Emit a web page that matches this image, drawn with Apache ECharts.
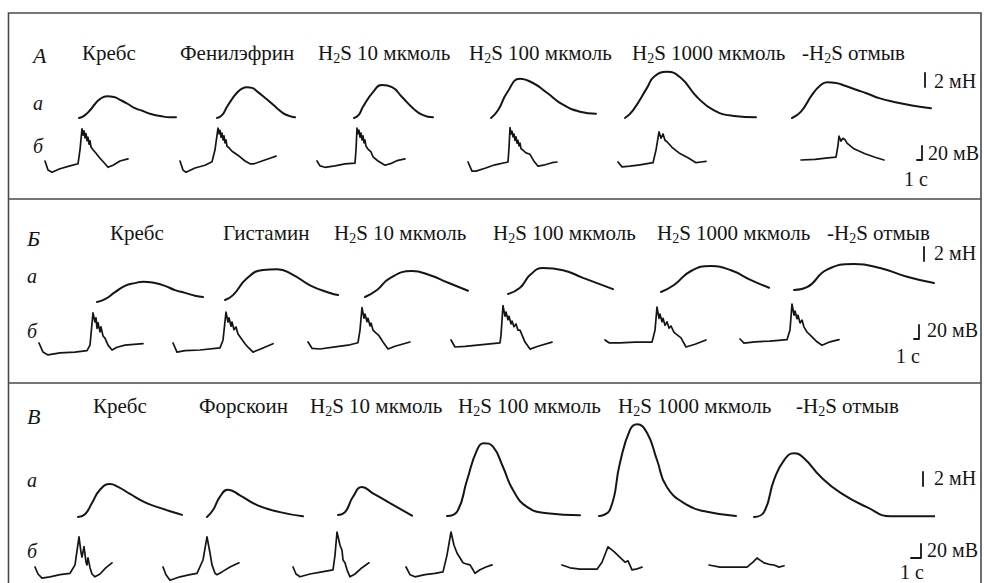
<!DOCTYPE html>
<html><head><meta charset="utf-8">
<script src="https://cdn.jsdelivr.net/npm/echarts@6/dist/echarts.min.js"></script>
<style>html,body{margin:0;padding:0;background:#fff}#c{width:984px;height:583px}</style>
</head><body><div id="c"></div>
<script>
// ================= DATA =================
const panelLetters = ['А', 'Б', 'В'];
const rowLabels = ['а', 'б'];
const conditionsA = ['Кребс', 'Фенилэфрин', 'H2S 10 мкмоль', 'H2S 100 мкмоль', 'H2S 1000 мкмоль', '-H2S отмыв'];
const conditionsB = ['Кребс', 'Гистамин', 'H2S 10 мкмоль', 'H2S 100 мкмоль', 'H2S 1000 мкмоль', '-H2S отмыв'];
const conditionsC = ['Кребс', 'Форскоин', 'H2S 10 мкмоль', 'H2S 100 мкмоль', 'H2S 1000 мкмоль', '-H2S отмыв'];

// scale bars: force (мН), potential (мВ), time (с)
const scaleForce = 2, scaleVolt = 20, scaleTime = 1;
const unitForce = 'мН', unitVolt = 'мВ', unitTime = 'с';

// traces: [time s, force mN] relative to start
const forceA = [
  [[0,0],[1,0.3],[2.2,1.1],[3.2,2],[4.2,2.7],[5.6,3.1],[7,3],[8.2,2.6],[9.8,2],[11.2,1.4],[12.8,1],[14.2,0.6],[16.2,0.3],[18.2,0.1],[19.4,0.1]],
  [[0,0],[1,0.4],[2,1.6],[3,2.7],[4,3.6],[5,4.2],[6,4.4],[7,4.3],[8.2,3.7],[9.4,3],[10.6,2.3],[12,1.4],[13.2,0.7],[14.4,0.3],[15.6,0.1]],
  [[0,0],[0.9,0.4],[1.8,1.6],[3.8,3.7],[5.6,4.7],[7.6,4.4],[9.6,3],[11.8,1.4],[13.8,0.4],[15.8,0.1]],
  [[0,0],[1.4,1.1],[3.2,3.6],[5.8,5.6],[8.4,5],[11.2,3.6],[14.4,1.9],[17.8,0.9],[21,0.6]],
  [[0,0],[1.6,1.1],[4.4,4.3],[5.8,5.9],[8.4,6.6],[11.2,5.7],[14.4,3],[17.8,1.1],[21.8,0.3],[26.2,0.1]],
  [[0,0],[1.8,0.9],[4,3.3],[5.6,4.6],[7,5.1],[8.8,5],[10.6,4.6],[13,4],[15,3.5],[17.6,2.8],[20.4,2.3],[24,1.8],[27.8,1.4]]
];
// [time s, potential mV]
const voltA = [
  [[0,0],[0.6,-13],[1.4,-16],[3,-11],[5,-7],[6.6,-4],[7,16],[7.4,46],[7.6,37],[7.8,43],[8,33],[8.2,39],[8.4,29],[8.6,34],[8.8,24],[9,29],[9.2,20],[9.6,16],[10.2,11],[11,4],[12,-4],[12.6,-9],[13.6,-6],[15,0],[16.6,3]],
  [[0,0],[0.6,-13],[1.2,-16],[3,-10],[5,-6],[6.4,-1],[7,16],[7.6,47],[7.8,39],[8,44],[8.2,34],[8.4,40],[8.6,30],[8.8,36],[9,26],[9.2,30],[9.4,21],[9.8,19],[10.4,14],[11,11],[12,6],[13,0],[14,-4],[14.8,-4],[16.4,0],[18,4],[19.2,7]],
  [[0,0],[0.6,-7],[1.6,-9],[3.6,-7],[5.6,-4],[7.6,-3],[7.8,16],[8,47],[8.2,39],[8.4,44],[8.6,34],[8.8,40],[9,30],[9.2,36],[9.4,26],[9.6,30],[9.8,21],[10.2,17],[10.8,13],[11.2,6],[12.2,0],[13.6,-6],[15,-3],[16.2,1],[17.6,3]],
  [[0,0],[0.8,-13],[1.6,-13],[3.4,-9],[5.4,-4],[8,0],[8.2,20],[8.4,49],[8.6,40],[8.8,44],[9,36],[9.2,40],[9.4,31],[9.6,36],[9.8,27],[10,31],[10.2,23],[10.4,27],[10.6,19],[11,17],[11.6,13],[12.4,11],[13.2,1],[14,-6],[15.4,-4],[16.8,-1],[17.8,0]],
  [[0,0],[0.8,-7],[2.4,-6],[4.4,-4],[7,-1],[7.6,17],[8.2,43],[8.6,34],[9,40],[9.4,31],[9.8,29],[10.8,21],[12.2,13],[14,6],[15.6,-1],[16.6,0],[17.6,1]],
  [[0,0],[2.8,1],[5.4,3],[7,4],[7.4,21],[7.6,34],[8,27],[8.4,31],[8.8,29],[9.2,24],[10.6,16],[12.8,9],[14.8,4],[16.6,0]]
];
const forceB = [
  [[0,0],[1.6,0.4],[3.6,1.4],[5.6,2.3],[7.6,2.7],[9.2,2.9],[11.6,2.7],[13.6,2.3],[15.6,1.7],[17.6,1.3],[19.6,0.9],[21.2,0.7]],
  [[0,0],[1.6,0.7],[4.4,3.1],[7.6,4.3],[10.4,4.4],[13.6,3.6],[17,2.1],[21,1],[22.6,0.7]],
  [[0,0],[2.4,1],[5,2.7],[9.4,3.7],[13,3.1],[16.4,2.1],[20.6,0.9]],
  [[0,0],[2.4,0.9],[4.4,2.7],[7,3.7],[11,3.4],[15,2.3],[21,0.7]],
  [[0,0],[2.6,1],[6,3],[10,3.7],[14,3.1],[18,1.7],[21.6,0.6]],
  [[0,0],[2.6,0.4],[6.6,2.9],[12,3.7],[17.4,3.1],[22.6,1.9],[28,1]]
];
const voltB = [
  [[0,0],[0.8,-13],[1.8,-17],[4.2,-14],[7.2,-13],[9.6,-11],[10.2,-3],[10.8,43],[11.2,30],[11.4,36],[11.6,21],[11.8,29],[12.2,16],[12.4,23],[12.8,10],[13.2,7],[13.8,-3],[14.6,-10],[15.6,-6],[17.2,-3],[20.8,-1]],
  [[0,0],[0.8,-13],[2.4,-11],[5.4,-10],[9.4,-7],[10,4],[10.6,44],[11,30],[11.2,36],[11.6,24],[11.8,30],[12.2,19],[12.6,23],[13,13],[13.4,9],[14.4,-1],[15,-6],[16,-13],[17.4,-9],[20,-1]],
  [[0,0],[0.8,-9],[2.4,-10],[5.4,-7],[8.4,-4],[10,-1],[10.4,17],[10.8,49],[11.2,34],[11.4,40],[11.8,29],[12,34],[12.4,23],[12.6,27],[13,17],[13.4,14],[14.2,9],[15,0],[16,-10],[17.4,-6],[20.4,0]],
  [[0,0],[0.8,-10],[2.8,-9],[5.8,-7],[9.8,-4],[10,7],[10.4,49],[10.8,34],[11,40],[11.4,29],[11.6,34],[12,23],[12.2,27],[12.6,19],[13,23],[13.4,14],[13.8,14],[14.8,-3],[15.8,-13],[17.4,-9],[20.2,-3]],
  [[0,0],[0.8,-4],[3,-4],[6,-3],[9.4,-3],[10,14],[10.4,47],[10.8,31],[11,37],[11.4,26],[11.6,31],[12,21],[12.4,26],[12.8,17],[13.2,20],[13.8,11],[15.2,3],[16.2,-10],[18,-6],[20.2,0]],
  [[0,0],[0.8,-6],[3,-4],[6,-3],[9.4,-1],[10,13],[10.4,50],[10.8,34],[11,40],[11.4,29],[11.6,34],[12,23],[12.4,27],[12.8,17],[13.4,10],[14.4,3],[15.4,-4],[16.4,-9],[18,-4],[19.8,-1]]
];
const forceC = [
  [[0,0],[0.7,0.4],[1.4,2],[2.2,3.9],[3.2,4.7],[4,4.3],[5.2,3.3],[6.7,2.1],[8.2,1.3],[9.7,0.6],[10.4,0.3]],
  [[0,0],[0.6,1],[1.3,2.9],[2.1,3.9],[3.3,3.1],[5,1.7],[7.3,0.7],[9.6,0.1]],
  [[0,0],[0.7,0.4],[1.5,2.6],[2.4,4],[3.5,3.1],[5.2,1.7],[7.4,-0.1]],
  [[0,0],[1,0.6],[2,5.1],[3,9.4],[3.7,10.4],[4.6,9.9],[5.6,7],[6.6,3.7],[8,1.3],[10,0.4],[13.3,0.1]],
  [[0,0],[1.1,0.9],[2.1,7.6],[3.1,12.3],[3.8,13.1],[4.8,11.9],[5.8,8],[6.8,4.1],[8.8,1.6],[10.8,0.6],[13.7,0]],
  [[0,0],[1,0.7],[2,5.3],[3,8.1],[4,9.1],[5,8.4],[6.7,5.7],[8.7,3.4],[11.3,1.4],[13.7,0.1],[18.5,0.1]]
];
const voltC = [
  [[0,0],[0.3,-10],[0.7,-16],[1.5,-14],[2.5,-11],[3.5,-9],[4,3],[4.4,43],[4.6,21],[4.7,14],[4.9,29],[5.1,7],[5.2,3],[5.3,13],[5.5,-1],[5.7,-10],[6,-14],[6.5,-10],[7.1,-1],[7.7,6]],
  [[0,0],[0.3,-11],[0.7,-19],[1.7,-14],[2.7,-11],[3.4,-9],[4,10],[4.4,43],[4.7,20],[4.9,3],[5.2,-9],[5.4,-11],[5.9,-7],[6.7,0],[7.6,6]],
  [[0,0],[0.3,-10],[0.7,-14],[1.7,-10],[2.9,-7],[4,-4],[4.2,17],[4.4,50],[4.7,31],[4.9,24],[5,10],[5.2,6],[5.4,-4],[5.7,-14],[6.2,-10],[6.9,-1],[7.6,6]],
  [[0,0],[0.4,-11],[0.9,-14],[1.9,-11],[2.9,-9],[3.7,-7],[4.1,17],[4.5,50],[4.8,31],[5.1,20],[5.7,6],[6.1,4],[6.4,3],[6.7,-4],[6.9,-9],[7.4,-4],[8,0],[8.6,3]],
  [[0,0],[0.8,-4],[1.8,-6],[3.5,-6],[4,4],[4.6,26],[5.2,19],[5.8,11],[6.3,4],[6.6,6],[7,-7],[7.4,-6],[8,-3]],
  [[0,0],[1.1,-3],[2.6,-3],[3.8,-3],[4.4,4],[4.8,10],[5.1,7],[5.5,3],[6,1],[6.5,0],[7,-3],[7.5,-1]]
];

// ================= LAYOUT (pixels) =================
const PX_PER_MN = 7, PX_PER_MV = 0.7;
const PX_PER_S = [5, 5, 10];
const traceW = 180, traceUp = 110, traceDown = 15;
const INK = '#151515';
const SERIF = 'Liberation Serif';
const TITLE_SIZE = 21, SUB_SIZE = 14, LETTER_SIZE = 22, ROW_SIZE = 20, SCALE_SIZE = 20;

const panelsLayout = [
  { conditions: conditionsA, force: forceA, volt: voltA,
    forceOrigin: [[79,118],[217,118],[354,118],[491,118],[625,118],[792,118]],
    voltOrigin: [[45,161],[180,161],[317,161],[468,162],[618,162],[801,160]],
    titleX: [82,180,318,469,632,802], titleY: 53,
    letter: [33,55], rowA: [33,103], rowB: [33,146],
    fBar: [925,87], vBarCorner: [922,160],
    fText: [934,81], vText: [928,153], tText: [904,179] },
  { conditions: conditionsB, force: forceB, volt: voltB,
    forceOrigin: [[97,302],[225,300],[365,297],[508,294],[661,292],[794,290]],
    voltOrigin: [[39,343],[173,343],[308,342],[451,340],[605,340],[740,339]],
    titleX: [110,223,334,493,657,827], titleY: 233,
    letter: [27,238], rowA: [27,276], rowB: [27,331],
    fBar: [924,261], vBarCorner: [919,339],
    fText: [934,253], vText: [927,330], tText: [896,356] },
  { conditions: conditionsC, force: forceC, volt: voltC,
    forceOrigin: [[78,517],[207,517],[338,515],[447,516],[599,516],[754,517]],
    voltOrigin: [[35,567],[163,567],[293,567],[406,567],[562,565],[709,565]],
    titleX: [93,199,310,458,618,796], titleY: 406,
    letter: [27,416], rowA: [27,480], rowB: [27,551],
    fBar: [923,486], vBarCorner: [921,558],
    fText: [934,478], vText: [927,550], tText: [900,572] }
];

// ================= BUILD =================
const grids = [], xAxes = [], yAxes = [], series = [], graphics = [];

function addLine(data, x0, y0, pps, ppu, w, up, down, smooth, lw) {
  const i = grids.length;
  grids.push({ left: x0, top: y0 - up, width: w, height: up + down, containLabel: false, outerBoundsMode: 'none', show: false });
  xAxes.push({ type: 'value', gridIndex: i, min: 0, max: w / pps, show: false });
  yAxes.push({ type: 'value', gridIndex: i, min: -down / ppu, max: up / ppu, show: false });
  series.push({ type: 'line', xAxisIndex: i, yAxisIndex: i, data: data, symbol: 'none', showSymbol: false,
    smooth: smooth, clip: false, silent: true, animation: false,
    lineStyle: { color: INK, width: lw, cap: 'round', join: 'round' } });
}

function richLabel(s) {
  const parts = s.split('H2S');
  return parts.map(p => p ? '{n|' + p + '}' : '').join('{n|H}{s|2}{n|S}');
}
function addText(str, x, y, size, italic, rich) {
  const style = { x: x, y: y, align: 'left', verticalAlign: 'middle', fill: INK,
    fontSize: size, fontFamily: SERIF, fontStyle: italic ? 'italic' : 'normal' };
  if (rich) {
    style.text = richLabel(str);
    style.rich = {
      n: { fontSize: size, fontFamily: SERIF, lineHeight: 24, fill: INK },
      s: { fontSize: SUB_SIZE, fontFamily: SERIF, lineHeight: 14, verticalAlign: 'bottom', fill: INK }
    };
  } else {
    style.text = str;
  }
  graphics.push({ type: 'text', silent: true, style: style });
}

panelsLayout.forEach((P, pi) => {
  const pps = PX_PER_S[pi];
  P.conditions.forEach((c, ci) => {
    addText(c, P.titleX[ci], P.titleY, TITLE_SIZE, false, true);
    addLine(P.force[ci], P.forceOrigin[ci][0], P.forceOrigin[ci][1], pps, PX_PER_MN, traceW, traceUp, traceDown, 0.5, 2);
    addLine(P.volt[ci], P.voltOrigin[ci][0], P.voltOrigin[ci][1], pps, PX_PER_MV, traceW, traceUp, traceDown, false, 1.7);
  });
  addText(panelLetters[pi], P.letter[0], P.letter[1], LETTER_SIZE, true, false);
  addText(rowLabels[0], P.rowA[0], P.rowA[1], ROW_SIZE, true, false);
  addText(rowLabels[1], P.rowB[0], P.rowB[1], ROW_SIZE, true, false);
  // scale bars
  addLine([[0, 0], [0, scaleForce]], P.fBar[0], P.fBar[1], pps, PX_PER_MN, 30, 30, 5, false, 1.8);
  addLine([[0, 0], [scaleTime, 0], [scaleTime, scaleVolt]], P.vBarCorner[0] - scaleTime * pps, P.vBarCorner[1], pps, PX_PER_MV, 30, 30, 5, false, 1.8);
  addText(scaleForce + ' ' + unitForce, P.fText[0], P.fText[1], SCALE_SIZE, false, false);
  addText(scaleVolt + ' ' + unitVolt, P.vText[0], P.vText[1], SCALE_SIZE, false, false);
  addText(scaleTime + ' ' + unitTime, P.tText[0], P.tText[1], SCALE_SIZE, false, false);
});

// frame and separators
graphics.push({ type: 'rect', silent: true, shape: { x: 8.5, y: 13, width: 972.5, height: 600 },
  style: { fill: 'none', stroke: '#4a4a4a', lineWidth: 1.6 } });
graphics.push({ type: 'line', silent: true, shape: { x1: 8.5, y1: 199, x2: 981, y2: 199 },
  style: { stroke: '#4a4a4a', lineWidth: 1.6 } });
graphics.push({ type: 'line', silent: true, shape: { x1: 8.5, y1: 383, x2: 981, y2: 383 },
  style: { stroke: '#4a4a4a', lineWidth: 1.6 } });

const chart = echarts.init(document.getElementById('c'), null, { renderer: 'svg', width: 984, height: 583 });
chart.setOption({
  animation: false,
  backgroundColor: '#ffffff',
  textStyle: { fontFamily: SERIF },
  grid: grids, xAxis: xAxes, yAxis: yAxes, series: series,
  graphic: { elements: graphics }
});
</script>
</body></html>
